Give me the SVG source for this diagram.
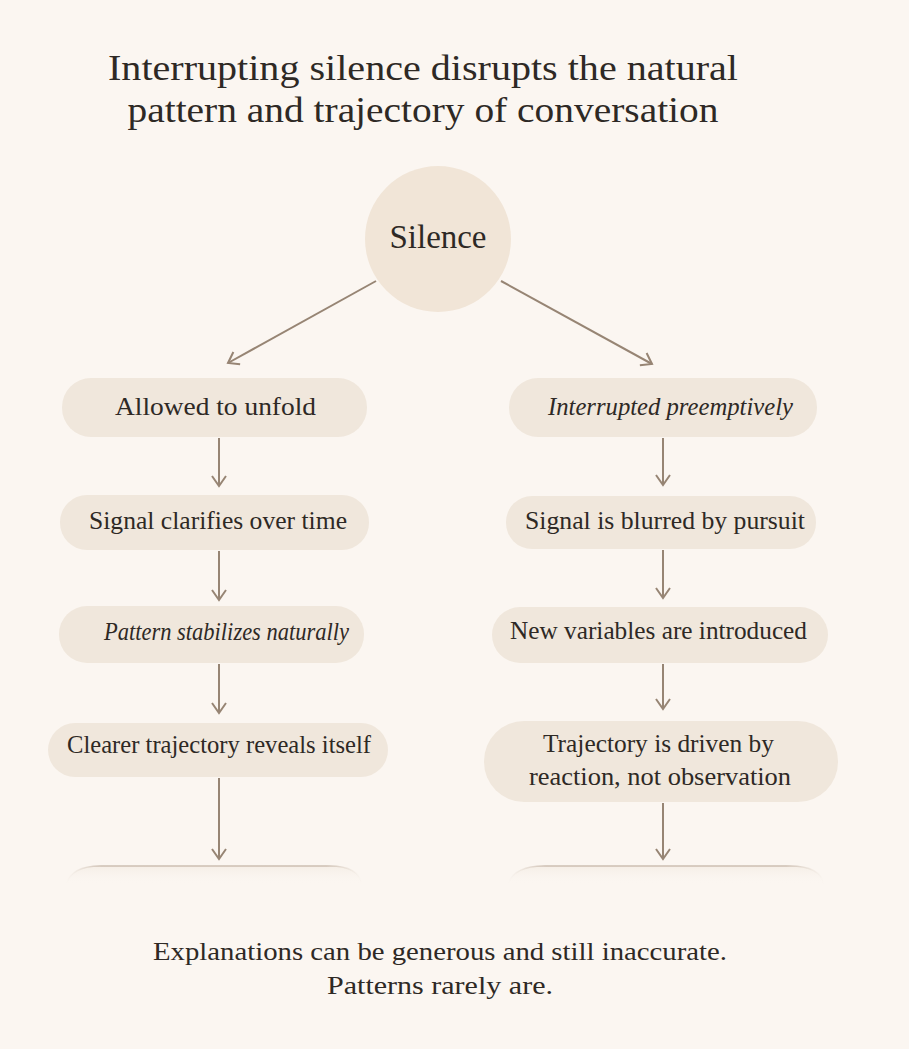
<svg xmlns="http://www.w3.org/2000/svg" width="909" height="1049" viewBox="0 0 909 1049">
<defs>
<style>
.t{font-family:"Liberation Serif","Times New Roman",serif;fill:#2E2925;}
.box{fill:#F0E7DC;}
.c{fill:none;stroke:#978574;stroke-width:2;}
.fade{fill:url(#fg);stroke:url(#sg);stroke-width:1.6;}
</style>
<marker id="ah" markerWidth="16" markerHeight="16" refX="13" refY="8" orient="auto" markerUnits="userSpaceOnUse">
<path d="M3,1 L13,8 L3,15" fill="none" stroke="#978574" stroke-width="2"/>
</marker>
<linearGradient id="fg" x1="0" y1="0" x2="0" y2="1">
<stop offset="0" stop-color="#F5EEE6"/>
<stop offset="1" stop-color="#FBF6F1" stop-opacity="0"/>
</linearGradient>
<linearGradient id="sg" x1="0" y1="0" x2="1" y2="0">
<stop offset="0" stop-color="#E3D9CF" stop-opacity="0"/>
<stop offset="0.12" stop-color="#CDBFB2"/>
<stop offset="0.88" stop-color="#CDBFB2"/>
<stop offset="1" stop-color="#E3D9CF" stop-opacity="0"/>
</linearGradient>
</defs>
<rect width="909" height="1049" fill="#FBF6F1"/>

<g id="title">
<text class="t" x="423" y="80" font-size="36" text-anchor="middle" textLength="630" lengthAdjust="spacingAndGlyphs">Interrupting silence disrupts the natural</text>
<text class="t" x="423" y="122" font-size="36" text-anchor="middle" textLength="591" lengthAdjust="spacingAndGlyphs">pattern and trajectory of conversation</text>
</g>

<g id="connectors">
<line class="c" x1="376" y1="281" x2="228" y2="363" marker-end="url(#ah)"/>
<line class="c" x1="501" y1="281" x2="652" y2="364" marker-end="url(#ah)"/>
<line class="c" x1="219" y1="438" x2="219" y2="486" marker-end="url(#ah)"/>
<line class="c" x1="219" y1="551" x2="219" y2="600" marker-end="url(#ah)"/>
<line class="c" x1="219" y1="664" x2="219" y2="713" marker-end="url(#ah)"/>
<line class="c" x1="219" y1="778" x2="219" y2="859" marker-end="url(#ah)"/>
<line class="c" x1="663" y1="438" x2="663" y2="485" marker-end="url(#ah)"/>
<line class="c" x1="663" y1="550" x2="663" y2="598" marker-end="url(#ah)"/>
<line class="c" x1="663" y1="664" x2="663" y2="709" marker-end="url(#ah)"/>
<line class="c" x1="663" y1="803" x2="663" y2="859" marker-end="url(#ah)"/>
</g>

<g id="silence">
<circle cx="438" cy="239" r="73" fill="#F1E5D7"/>
<text class="t" x="438" y="248" font-size="34" text-anchor="middle" textLength="97" lengthAdjust="spacingAndGlyphs">Silence</text>
</g>

<g id="allowed">
<rect class="box" x="62" y="378" width="305" height="59" rx="29"/>
<text class="t" x="215.5" y="415" font-size="26" text-anchor="middle" textLength="201" lengthAdjust="spacingAndGlyphs">Allowed to unfold</text>
</g>
<g id="signal-clarifies">
<rect class="box" x="60" y="495" width="309" height="55" rx="27"/>
<text class="t" x="218" y="529" font-size="26" text-anchor="middle" textLength="258" lengthAdjust="spacingAndGlyphs">Signal clarifies over time</text>
</g>
<g id="pattern-stabilizes">
<rect class="box" x="59" y="606" width="305" height="57" rx="28"/>
<text class="t" x="226.5" y="640" font-size="26" font-style="italic" text-anchor="middle" textLength="245" lengthAdjust="spacingAndGlyphs">Pattern stabilizes naturally</text>
</g>
<g id="clearer-trajectory">
<rect class="box" x="48" y="723" width="340" height="54" rx="27"/>
<text class="t" x="219" y="753" font-size="26" text-anchor="middle" textLength="304" lengthAdjust="spacingAndGlyphs">Clearer trajectory reveals itself</text>
</g>

<g id="interrupted">
<rect class="box" x="509" y="378" width="308" height="59" rx="29"/>
<text class="t" x="670.5" y="415" font-size="26" font-style="italic" text-anchor="middle" textLength="245" lengthAdjust="spacingAndGlyphs">Interrupted preemptively</text>
</g>
<g id="signal-blurred">
<rect class="box" x="506" y="496" width="310" height="53" rx="26"/>
<text class="t" x="665" y="529" font-size="26" text-anchor="middle" textLength="280" lengthAdjust="spacingAndGlyphs">Signal is blurred by pursuit</text>
</g>
<g id="new-variables">
<rect class="box" x="492" y="607" width="336" height="56" rx="28"/>
<text class="t" x="658.5" y="639" font-size="26" text-anchor="middle" textLength="297" lengthAdjust="spacingAndGlyphs">New variables are introduced</text>
</g>
<g id="trajectory-driven">
<rect class="box" x="484" y="721" width="354" height="81" rx="40"/>
<text class="t" x="658.5" y="752" font-size="26" text-anchor="middle" textLength="231" lengthAdjust="spacingAndGlyphs">Trajectory is driven by</text>
<text class="t" x="660" y="785" font-size="26" text-anchor="middle" textLength="262" lengthAdjust="spacingAndGlyphs">reaction, not observation</text>
</g>

<g id="faded-left">
<path class="fade" d="M66,884 Q72,866 100,866 L330,866 Q358,866 362,884"/>
</g>
<g id="faded-right">
<path class="fade" d="M508,884 Q514,866 544,866 L790,866 Q820,866 824,884"/>
</g>

<g id="footer">
<text class="t" x="440" y="960" font-size="26" text-anchor="middle" textLength="574" lengthAdjust="spacingAndGlyphs">Explanations can be generous and still inaccurate.</text>
<text class="t" x="440" y="994" font-size="26" text-anchor="middle" textLength="226" lengthAdjust="spacingAndGlyphs">Patterns rarely are.</text>
</g>
</svg>
